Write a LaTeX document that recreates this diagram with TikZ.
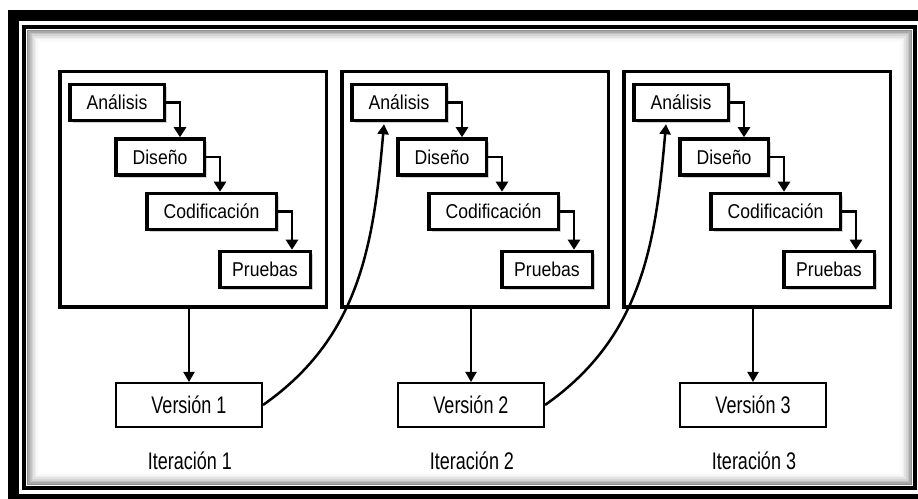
\documentclass[tikz,border=0pt]{standalone}
\usepackage{fontspec}
\setmainfont{Liberation Sans}[FakeStretch=0.88]
\newfontfamily\narrowfont{Liberation Sans}[FakeStretch=0.75]
\usetikzlibrary{arrows.meta,shadows}

\begin{document}
\begin{tikzpicture}[x=1pt, y=1pt,
  stepbox/.style={draw, line width=3.5pt, fill=white, inner sep=0pt, minimum height=36pt,
    font=\fontsize{20}{22}\selectfont,
    drop shadow={shadow xshift=3pt, shadow yshift=-3pt, fill=black!35}},
  iterbox/.style={draw, line width=3.5pt, minimum width=266.5pt, minimum height=235.5pt, inner sep=0pt},
  verbox/.style={draw, line width=2pt, fill=white, minimum width=146pt, minimum height=44pt,
    font=\narrowfont\fontsize{24}{26}\selectfont},
  iterlabel/.style={font=\narrowfont\fontsize{24}{26}\selectfont},
  steparrow/.style={line width=2.5pt, -{Triangle[width=12pt,length=10pt]}},
  flow/.style={line width=2pt, -{Triangle[width=11pt,length=10pt]}}]
  \useasboundingbox (0,0) rectangle (918,498);
  \draw[line width=11pt] (13.5,482.5) rectangle (930,-1.5);
  \draw[line width=4pt] (24,471) rectangle (915,10);
  \foreach \k in {1,...,8} {
    \pgfmathsetmacro\c{55*(1-\k/9)^2}
    \draw[black!\c, line width=1.8pt] (26+1.6*\k,12+1.6*\k) rectangle (913-1.6*\k,469-1.6*\k);
  }
  \foreach \i in {1,2,3} {
    \pgfmathsetmacro\off{282*(\i-1)}
    \node[iterbox] (it\i) at (193+\off,308.5) {};
    \node[stepbox, minimum width=94.5pt] (a\i) at (117+\off,395.5) {Análisis};
    \node[stepbox, minimum width=88.5pt] (d\i) at (160+\off,341) {Diseño};
    \node[stepbox, minimum width=129.5pt] (c\i) at (211.5+\off,286.5) {Codificación};
    \node[stepbox, minimum width=90.5pt] (p\i) at (265+\off,228.5) {Pruebas};
    \draw[steparrow] (a\i.east) -- ++(14,0) coordinate (t) -- (t |- d\i.north);
    \draw[steparrow] (d\i.east) -- ++(14,0) coordinate (t) -- (t |- c\i.north);
    \draw[steparrow] (c\i.east) -- ++(14,0) coordinate (t) -- (t |- p\i.north);
    \node[verbox] (v\i) at (189+\off,93) {Versión \i};
    \draw[flow] (it\i.south -| v\i.north) -- (v\i.north);
    \node[iterlabel] (l\i) at (190+\off,37) {Iteración \i};
  }
  \foreach \i/\j in {1/2,2/3}
    \draw[flow, line width=2.5pt] (v\i.east) to[out=35,in=-95] ([xshift=-15pt,yshift=-2pt]a\j.south);
\end{tikzpicture}
\end{document}
